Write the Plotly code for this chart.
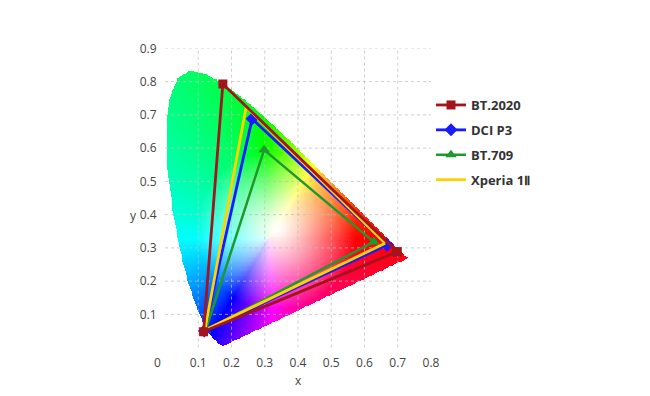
import numpy as np
import plotly.graph_objects as go

# ---------------- data ----------------
# CIE 1931 spectral locus (x, y), 380..700 nm
locus_x = [0.1741, 0.1740, 0.1738, 0.1736, 0.1733, 0.1730, 0.1726, 0.1721, 0.1714, 0.1703,
           0.1689, 0.1669, 0.1644, 0.1611, 0.1566, 0.1510, 0.1440, 0.1355, 0.1241, 0.1096,
           0.0913, 0.0687, 0.0454, 0.0235, 0.0082, 0.0039, 0.0139, 0.0389, 0.0743, 0.1142,
           0.1547, 0.1929, 0.2296, 0.2658, 0.3016, 0.3373, 0.3731, 0.4087, 0.4441, 0.4788,
           0.5125, 0.5448, 0.5752, 0.6029, 0.6270, 0.6482, 0.6658, 0.6801, 0.6915, 0.7006,
           0.7079, 0.7140, 0.7190, 0.7230, 0.7260, 0.7300]
locus_y = [0.0050, 0.0050, 0.0049, 0.0049, 0.0048, 0.0048, 0.0048, 0.0048, 0.0051, 0.0058,
           0.0069, 0.0086, 0.0109, 0.0138, 0.0177, 0.0227, 0.0297, 0.0399, 0.0578, 0.0868,
           0.1327, 0.2007, 0.2950, 0.4127, 0.5384, 0.6548, 0.7502, 0.8120, 0.8338, 0.8262,
           0.8059, 0.7816, 0.7543, 0.7243, 0.6923, 0.6589, 0.6245, 0.5896, 0.5547, 0.5202,
           0.4866, 0.4544, 0.4242, 0.3965, 0.3725, 0.3514, 0.3340, 0.3197, 0.3083, 0.2993,
           0.2920, 0.2859, 0.2809, 0.2770, 0.2740, 0.2700]

# gamut triangles (R, G, B)
bt2020_x = [0.698, 0.174, 0.116]
bt2020_y = [0.288, 0.793, 0.048]
p3_x = [0.668, 0.262, 0.118]
p3_y = [0.309, 0.688, 0.050]
bt709_x = [0.628, 0.298, 0.122]
bt709_y = [0.318, 0.595, 0.052]
xperia_x = [0.662, 0.244, 0.120]
xperia_y = [0.314, 0.724, 0.053]

x_ticks = [0.1, 0.2, 0.3, 0.4, 0.5, 0.6, 0.7, 0.8]
y_ticks = [0.1, 0.2, 0.3, 0.4, 0.5, 0.6, 0.7, 0.8, 0.9]
x_grid = [0.1, 0.2, 0.3, 0.4, 0.5, 0.6, 0.7]
y_grid = [0.1, 0.2, 0.3, 0.4, 0.5, 0.6, 0.7, 0.8, 0.9]

# ---------------- chromaticity background ----------------
d = 0.0025
xs = np.arange(0, 0.76, d) + d / 2
ys = np.arange(0, 0.86, d) + d / 2
PX, PY = np.meshgrid(xs, ys)

lx = np.array(locus_x)
ly = np.array(locus_y)
inside = np.zeros(PX.shape, dtype=bool)
n = len(lx)
for i in range(n):
    j = (i - 1) % n
    xi, yi, xj, yj = lx[i], ly[i], lx[j], ly[j]
    cond = (yi > PY) != (yj > PY)
    with np.errstate(divide="ignore", invalid="ignore"):
        xint = (xj - xi) * (PY - yi) / (yj - yi + 1e-12) + xi
    inside ^= cond & (PX < xint)

yy = np.maximum(PY, 1e-4)
Xc = PX / yy
Yc = np.ones_like(PX)
Zc = (1 - PX - PY) / yy
R = 3.2406 * Xc - 1.5372 * Yc - 0.4986 * Zc
G = -0.9689 * Xc + 1.8758 * Yc + 0.0415 * Zc
B = 0.0557 * Xc - 0.2040 * Yc + 1.0570 * Zc
# smooth hue angle from opponent channels
h = np.arctan2(np.sqrt(3) * (G - B), 2 * R - G - B) / (2 * np.pi)
c_r = np.cos(np.pi * h) ** 2
c_g = np.cos(np.pi * (h - 1 / 3)) ** 2
c_b = np.cos(np.pi * (h - 2 / 3)) ** 2
hue = np.stack([c_r, c_g, c_b], axis=-1)
hmn = hue.min(axis=-1, keepdims=True)
hmx = hue.max(axis=-1, keepdims=True)
hue = (hue - hmn) / np.maximum(hmx - hmn, 1e-6)
dist = np.hypot(PX - 0.335, PY - 0.355)
sat = np.clip(dist / 0.24, 0, 1) ** 1.15
col = 1 - sat[..., None] * (1 - hue)
col = np.clip(col * 255, 0, 255).round()
alpha = inside.astype(float)
img = np.dstack([col, alpha[..., None]])

fig = go.Figure()
fig.add_trace(go.Image(z=img.tolist(), colormodel="rgba", x0=d / 2, dx=d, y0=d / 2, dy=d,
                       hoverinfo="skip"))

# grid lines (drawn above the colour field)
gcol = "rgba(190,190,190,0.75)"
for v in x_grid:
    fig.add_trace(go.Scatter(x=[v, v], y=[0, 0.9], mode="lines", showlegend=False,
                             hoverinfo="skip", line=dict(color=gcol, width=1, dash="dot")))
for v in y_grid:
    fig.add_trace(go.Scatter(x=[0, 0.8], y=[v, v], mode="lines", showlegend=False,
                             hoverinfo="skip", line=dict(color=gcol, width=1, dash="dot")))


def closed(a):
    return list(a) + [a[0]]


fig.add_trace(go.Scatter(x=closed(bt709_x), y=closed(bt709_y), mode="lines+markers",
                         name="BT.709", legendgroup="c", legendrank=3,
                         line=dict(color="#1e9a2a", width=2.5),
                         marker=dict(symbol="triangle-up", size=10, color="#1e9a2a")))
fig.add_trace(go.Scatter(x=closed(p3_x), y=closed(p3_y), mode="lines+markers",
                         name="DCI P3", legendgroup="b", legendrank=2,
                         line=dict(color="#1a1aff", width=2.8),
                         marker=dict(symbol="diamond", size=10, color="#1a1aff")))
fig.add_trace(go.Scatter(x=closed(xperia_x), y=closed(xperia_y), mode="lines",
                         name="Xperia 1Ⅱ", legendgroup="d", legendrank=4,
                         line=dict(color="#ffd200", width=2.8)))
fig.add_trace(go.Scatter(x=closed(bt2020_x), y=closed(bt2020_y), mode="lines+markers",
                         name="BT.2020", legendgroup="a", legendrank=1,
                         line=dict(color="#a3141c", width=2.8),
                         marker=dict(symbol="square", size=9, color="#a3141c")))

tickfont = dict(family="Open Sans", size=12, color="#444")
fig.update_layout(
    width=650, height=396,
    margin=dict(l=165, r=219, t=48, b=48),
    paper_bgcolor="white", plot_bgcolor="white",
    showlegend=True,
    legend=dict(x=1.0, xanchor="left", y=0.86, yanchor="top",
                traceorder="grouped", tracegroupgap=5,
                font=dict(family="Open Sans", size=13, color="#333", weight="bold"),
                bgcolor="rgba(0,0,0,0)"),
    xaxis=dict(range=[0, 0.8], tickvals=x_ticks, ticktext=[str(v) for v in x_ticks],
               showgrid=False, zeroline=False, showline=False, ticks="outside",
               ticklen=4, tickcolor="rgba(0,0,0,0)", tickfont=tickfont),
    yaxis=dict(range=[0, 0.9], tickvals=y_ticks, ticktext=[str(v) for v in y_ticks],
               showgrid=False, zeroline=False, showline=False, ticks="outside",
               ticklen=5, tickcolor="rgba(0,0,0,0)", tickfont=tickfont),
    annotations=[
        dict(text="x", x=0.5, y=0, xref="paper", yref="paper", yanchor="top",
             yshift=-22, showarrow=False, font=tickfont),
        dict(text="y", x=-0.139, y=0.443, xref="paper", yref="paper",
             showarrow=False, font=tickfont),
        dict(text="0", x=-0.049, y=0, xref="paper", yref="paper", yanchor="middle",
             yshift=-14, showarrow=False, font=tickfont),
    ],
)

fig.write_html("out.html", config={"displayModeBar": False},
               post_script="document.body.style.margin='0px';")
